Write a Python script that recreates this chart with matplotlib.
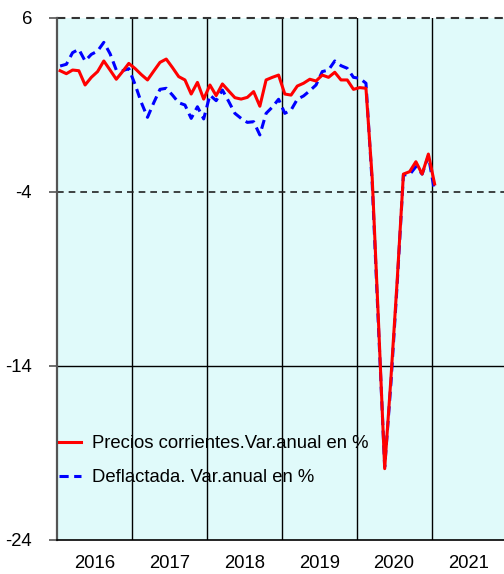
import numpy as np
import matplotlib
matplotlib.use('Agg')
import matplotlib.pyplot as plt

plt.rcParams['font.family'] = ['Liberation Sans', 'DejaVu Sans']

# Monthly data, Jan 2016 - Jan 2021
start_year = 2016
corrientes = [2.97, 2.80, 3.01, 2.97, 2.15, 2.59, 2.92, 3.53, 3.01, 2.48, 2.92, 3.39,
              3.10, 2.75, 2.44, 2.95, 3.45, 3.64, 3.15, 2.63, 2.44, 1.63, 2.30, 1.34,
              2.15, 1.54, 2.21, 1.81, 1.42, 1.34, 1.44, 1.77, 0.93, 2.44, 2.59, 2.72,
              1.63, 1.57, 2.09, 2.25, 2.48, 2.38, 2.72, 2.59, 2.88, 2.44, 2.44, 1.90,
              2.00, 1.96, -3.2, -11.4, -19.9, -14.7, -9.1, -2.97, -2.83, -2.26, -2.97, -1.82,
              -3.54]
deflactada = [3.24, 3.34, 4.01, 4.20, 3.53, 3.91, 4.10, 4.60, 3.95, 3.01, 2.97, 3.09,
              2.19, 1.15, 0.29, 1.13, 1.90, 1.96, 1.57, 1.13, 1.00, 0.23, 0.90, 0.20,
              1.57, 1.25, 1.86, 1.21, 0.52, 0.23, 0.00, 0.04, -0.72, 0.52, 0.88, 1.33,
              0.52, 0.71, 1.33, 1.52, 1.82, 2.15, 2.92, 3.01, 3.53, 3.26, 3.11, 2.59,
              2.53, 2.25, -3.5, -11.7, -19.8, -15.0, -9.3, -3.02, -3.0, -2.54, -2.97, -1.93,
              -3.98]
years = [2016, 2017, 2018, 2019, 2020, 2021]
yticks = [6, -4, -14, -24]
labels = ['Precios corrientes.Var.anual en %', 'Deflactada. Var.anual en %']

x = start_year + (np.arange(len(corrientes)) + 0.5) / 12.0

fig = plt.figure(figsize=(5.04, 5.74), dpi=100)
ax = fig.add_axes([57 / 504, 1 - 540 / 574, 1 - 57 / 504, 522 / 574])
ax.set_facecolor('#E0FAFA')

# year separators
for yr in years[1:]:
    ax.axvline(yr, color='black', lw=1.0, zorder=1)
# horizontal reference lines
ax.axhline(6, color='#333333', lw=1.5, ls=(0, (4, 3)), zorder=1, clip_on=False)
ax.axhline(-4, color='#222222', lw=1.2, ls=(0, (4, 3)), zorder=1)
ax.axhline(-14, color='black', lw=1.0, zorder=1)

ax.plot(x, deflactada, color='#0000FF', lw=2.2, ls=(0, (3, 1.8)), label=labels[1], zorder=3)
ax.plot(x, corrientes, color='#FF0000', lw=2.2, label=labels[0], zorder=4)

ax.set_xlim(start_year, start_year + 447 / 74.9)
ax.set_ylim(-24, 6)
ax.set_yticks(yticks)
ax.set_yticklabels([str(v) for v in yticks], fontsize=13.3)
ax.tick_params(axis='y', length=6, width=1.2, color='#555555', pad=12)

ax.set_xticks([yr + 0.5 for yr in years])
ax.set_xticklabels([str(yr) for yr in years], fontsize=13.3)
ax.tick_params(axis='x', length=0, pad=11)

for side in ['top', 'right']:
    ax.spines[side].set_visible(False)
ax.spines['left'].set_color('#555555')
ax.spines['left'].set_linewidth(1.6)
ax.spines['bottom'].set_color('black')
ax.spines['bottom'].set_linewidth(1.2)

h, l = ax.get_legend_handles_labels()
ax.legend(h[::-1], l[::-1], loc='center left', bbox_to_anchor=(0.005, 0.152),
          frameon=False, fontsize=13.3, handlelength=1.2, handletextpad=0.6,
          labelspacing=0.9, borderpad=0, borderaxespad=0)

fig.savefig('out.png', dpi=100)
